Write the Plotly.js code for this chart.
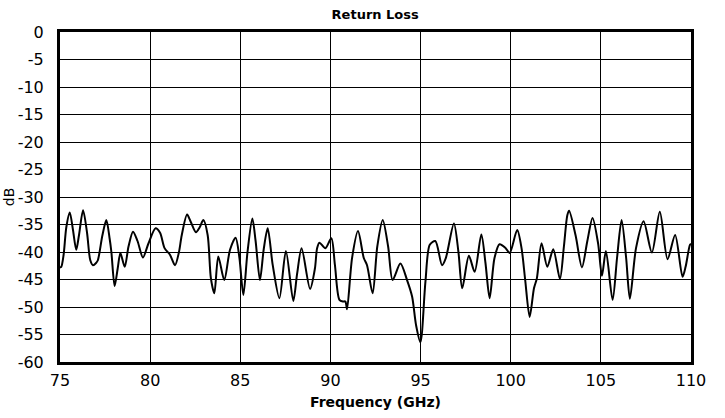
<!DOCTYPE html>
<html>
<head>
<meta charset="utf-8">
<script src="https://cdn.plot.ly/plotly-3.0.1.min.js"></script>
<style>html,body{margin:0;padding:0;background:#fff;}#chart{width:725px;height:418px;}</style>
</head>
<body>
<div id="chart"></div>
<script>
const frequencyGHz = [
  75.0, 75.07, 75.2, 75.35, 75.54, 75.72, 75.9, 76.05, 76.28, 76.5, 76.68, 76.83, 77.0, 77.1, 77.35, 77.57,
  77.75, 77.85, 78.03, 78.2, 78.35, 78.59, 78.8, 79.05, 79.3, 79.6, 79.9, 80.3, 80.55, 80.8, 81.1, 81.38,
  81.6, 81.75, 82.05, 82.25, 82.54, 82.75, 82.95, 83.19, 83.37, 83.56, 83.78, 84.11, 84.43, 84.74, 84.95, 85.17,
  85.4, 85.67, 85.85, 86.09, 86.3, 86.52, 86.8, 87.17, 87.53, 87.94, 88.15, 88.4, 88.87, 89.14, 89.26, 89.39,
  89.72, 90.05, 90.25, 90.5, 90.7, 90.83, 90.92, 91.2, 91.53, 91.85, 92.03, 92.34, 92.6, 92.9, 93.2, 93.45,
  93.88, 94.25, 94.53, 94.75, 94.99, 95.27, 95.51, 95.82, 96.19, 96.4, 96.85, 97.1, 97.31, 97.68, 98.0, 98.37,
  98.6, 98.83, 99.1, 99.38, 99.72, 99.94, 100.36, 100.6, 100.8, 101.05, 101.29, 101.45, 101.71, 102.03, 102.36, 102.73,
  102.95, 103.14, 103.24, 103.6, 103.95, 104.25, 104.54, 104.85, 105.06, 105.28, 105.65, 105.9, 106.15, 106.4, 106.61, 106.95,
  107.37, 107.83, 108.27, 108.7, 109.12, 109.53, 109.7, 109.94, 110.0
];
const returnLossDb = [
  -42.8, -42.7, -40.5, -35.5, -32.8, -36.0, -39.6, -37.0, -32.4, -36.5, -41.5, -42.4, -42.0, -41.5, -37.0, -34.2,
  -37.5, -40.0, -46.2, -43.0, -40.2, -42.7, -39.0, -36.3, -38.0, -41.0, -38.5, -35.7, -36.5, -39.3, -40.5, -42.4,
  -40.0, -37.0, -33.2, -34.5, -36.4, -35.5, -34.2, -36.9, -44.8, -47.5, -40.8, -45.1, -39.6, -37.4, -41.0, -47.8,
  -40.0, -33.9, -38.0, -45.1, -39.5, -35.7, -42.4, -48.4, -39.8, -48.9, -44.0, -39.3, -46.7, -43.0, -39.3, -38.3,
  -39.3, -37.5, -42.4, -48.7, -49.0, -49.0, -50.4, -41.1, -36.2, -41.1, -42.4, -47.5, -39.0, -34.2, -39.0, -45.1,
  -42.1, -45.1, -48.1, -53.3, -56.4, -45.4, -38.7, -38.0, -42.4, -41.1, -34.8, -40.0, -46.6, -40.7, -43.6, -36.8,
  -42.0, -48.4, -41.1, -38.6, -39.3, -40.2, -36.0, -39.3, -45.0, -51.8, -46.6, -44.8, -38.4, -42.7, -39.5, -44.9,
  -39.0, -33.3, -32.5, -37.0, -42.8, -38.0, -33.8, -38.5, -44.3, -39.8, -48.7, -41.0, -34.2, -41.0, -48.5, -39.3,
  -34.4, -40.1, -32.7, -41.3, -36.9, -44.5, -42.7, -38.7, -38.5
];
const xTickValues = [75, 80, 85, 90, 95, 100, 105, 110];
const yTickValues = [0, -5, -10, -15, -20, -25, -30, -35, -40, -45, -50, -55, -60];

const trace = {
  x: frequencyGHz,
  y: returnLossDb,
  type: 'scatter',
  mode: 'lines',
  line: {color: '#000', width: 2, shape: 'spline', smoothing: 0.8},
  hoverinfo: 'skip'
};

const font = {family: 'DejaVu Sans, sans-serif', size: 16, color: '#000'};
const layout = {
  width: 725, height: 418,
  margin: {l: 60, r: 34, t: 32, b: 56},
  paper_bgcolor: '#fff', plot_bgcolor: '#fff',
  showlegend: false,
  font: font,
  title: {text: '<b>Return Loss</b>', font: {family: 'DejaVu Sans, sans-serif', size: 13, color: '#000'}, x: 0.5175, xanchor: 'center', y: 0.966, yanchor: 'middle'},
  xaxis: {
    range: [75, 110], tickvals: xTickValues, ticktext: xTickValues.map(String),
    showgrid: true, gridcolor: '#000', gridwidth: 1,
    showline: true, linecolor: '#000', linewidth: 3, mirror: true,
    ticks: 'outside', ticklen: 2, tickcolor: 'rgba(0,0,0,0)', zeroline: false,
    tickfont: font,
    title: {text: '<b>Frequency (GHz)</b>', font: {family: 'DejaVu Sans, sans-serif', size: 14, color: '#000'}, standoff: 8}
  },
  yaxis: {
    range: [-60, 0], tickvals: yTickValues, ticktext: yTickValues.map(String),
    showgrid: true, gridcolor: '#000', gridwidth: 1,
    showline: true, linecolor: '#000', linewidth: 3, mirror: true,
    ticks: 'outside', ticklen: 10, tickcolor: 'rgba(0,0,0,0)', zeroline: false,
    tickfont: font,
    title: {text: 'dB', font: {family: 'DejaVu Sans, sans-serif', size: 14, color: '#000'}, standoff: 0}
  }
};

Plotly.newPlot('chart', [trace], layout, {staticPlot: true, displayModeBar: false});
</script>
</body>
</html>
